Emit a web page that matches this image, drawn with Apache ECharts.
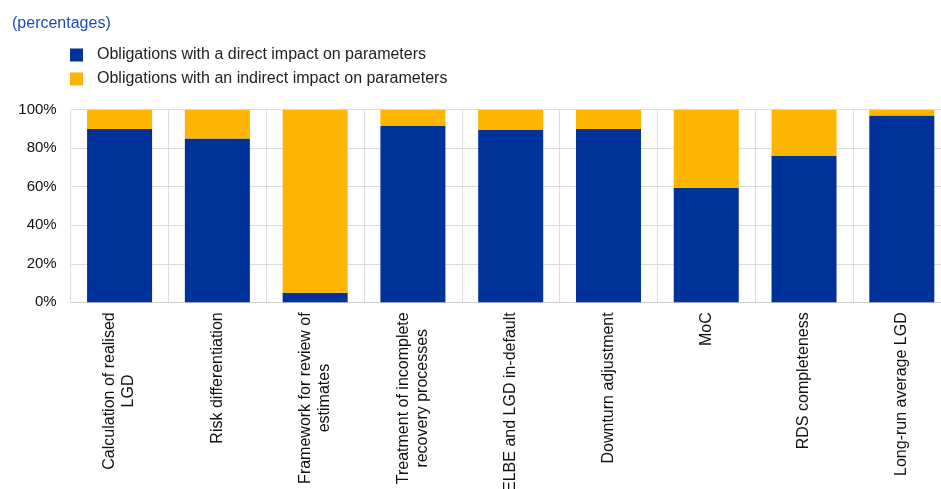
<!DOCTYPE html>
<html>
<head>
<meta charset="utf-8">
<script src="https://cdn.jsdelivr.net/npm/echarts@6/dist/echarts.min.js"></script>
<style>
html,body{margin:0;padding:0;background:#fff;}
#chart{width:941px;height:489px;}
</style>
</head>
<body>
<div id="chart"></div>
<script>
const categories = [
  'Calculation of realised\nLGD',
  'Risk differentiation',
  'Framework for review of\nestimates',
  'Treatment of incomplete\nrecovery processes',
  'ELBE and LGD in-default',
  'Downturn adjustment',
  'MoC',
  'RDS completeness',
  'Long-run average LGD'
];
const directImpact = [90, 85, 5, 91.5, 89.5, 90, 59.5, 76, 97];
const indirectImpact = [10, 15, 95, 8.5, 10.5, 10, 40.5, 24, 3];
const seriesNames = ['Obligations with a direct impact on parameters', 'Obligations with an indirect impact on parameters'];
const yTicks = [0, 20, 40, 60, 80, 100];

const FONT = 'Liberation Sans, Arial, sans-serif';
const chart = echarts.init(document.getElementById('chart'));
chart.setOption({
  animation: false,
  backgroundColor: '#fff',
  title: {
    text: '(percentages)',
    left: 12, top: 16, padding: 0,
    textStyle: {fontFamily: FONT, fontSize: 16, fontWeight: 'normal', color: '#1d4fb0'}
  },
  legend: {
    orient: 'vertical',
    left: 70, top: 47, padding: 0,
    itemWidth: 13, itemHeight: 13, itemGap: 8,
    icon: 'rect',
    textStyle: {fontFamily: FONT, fontSize: 16, color: '#222', padding: [0, 0, 0, 9]},
    data: seriesNames
  },
  grid: {left: 70.7, width: 880, top: 109.7, bottom: 186.7, containLabel: false, outerBoundsMode: 'none'},
  xAxis: {
    type: 'category',
    data: categories,
    axisLine: {show: true, lineStyle: {color: '#d0d0d0', width: 1}},
    axisTick: {show: false},
    splitLine: {show: true, interval: 0, lineStyle: {color: '#dcdcdc', width: 1}},
    axisLabel: {
      interval: 0, rotate: 90, margin: 10,
      fontFamily: FONT, fontSize: 16, color: '#111', lineHeight: 19,
      formatter: function (v) { return v.split('\n').map(function (l) { return '{c|' + l + '}'; }).join('\n'); },
      rich: {c: {align: 'center', fontFamily: FONT, fontSize: 16, color: '#111', lineHeight: 19}}
    }
  },
  yAxis: {
    type: 'value', min: yTicks[0], max: yTicks[yTicks.length - 1], interval: 20,
    axisLine: {show: false}, axisTick: {show: false},
    splitLine: {show: true, lineStyle: {color: '#dcdcdc', width: 1}},
    axisLabel: {margin: 14, fontFamily: FONT, fontSize: 15, color: '#111', formatter: '{value}%'}
  },
  series: [
    {name: seriesNames[0], type: 'bar', stack: 'a', data: directImpact, barWidth: '66.5%',
     itemStyle: {color: '#003299'}},
    {name: seriesNames[1], type: 'bar', stack: 'a', data: indirectImpact, barWidth: '66.5%',
     itemStyle: {color: '#FFB400'}}
  ]
});
</script>
</body>
</html>
